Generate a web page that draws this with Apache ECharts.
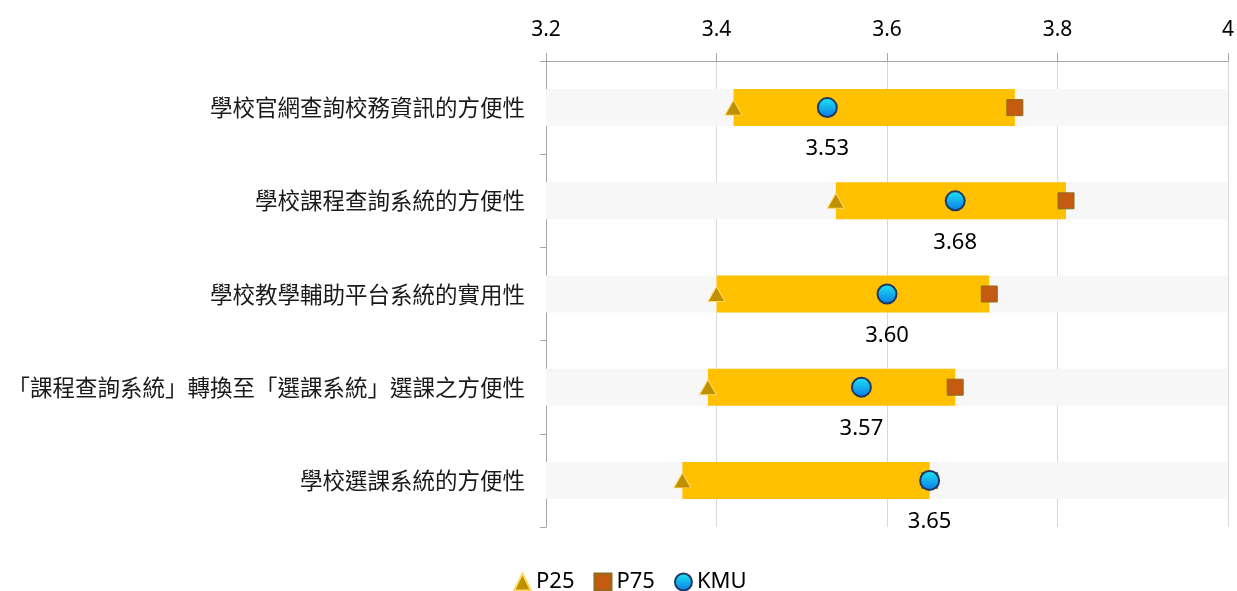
<!DOCTYPE html>
<html>
<head>
<meta charset="utf-8">
<script src="https://cdn.jsdelivr.net/npm/echarts@6/dist/echarts.min.js"></script>
<style>
  html, body { margin: 0; padding: 0; background: #fff; }
  #chart { width: 1237px; height: 591px; }
</style>
</head>
<body>
<div id="chart"></div>
<script>
// 題目（由上而下）
const categories = [
    "學校官網查詢校務資訊的方便性",
    "學校課程查詢系統的方便性",
    "學校教學輔助平台系統的實用性",
    "「課程查詢系統」轉換至「選課系統」選課之方便性",
    "學校選課系統的方便性",
];
const p25 = [3.42, 3.54, 3.40, 3.39, 3.36];
const p75 = [3.75, 3.81, 3.72, 3.68, 3.65];
const kmu = [3.53, 3.68, 3.60, 3.57, 3.65];
const xTicks = [3.2, 3.4, 3.6, 3.8, 4];

const cjkFont = '"Noto Sans CJK TC", "Noto Sans", sans-serif';
const numFont = '"Noto Sans", "Open Sans", sans-serif';

const chart = echarts.init(document.getElementById("chart"));

chart.setOption({
    animation: false,
    textStyle: { fontFamily: numFont },
    grid: {
        left: 546,
        right: 8,
        top: 61,
        bottom: 64,
    },
    xAxis: {
        type: "value",
        position: "top",
        min: xTicks[0],
        max: xTicks[xTicks.length - 1],
        interval: 0.2,
        axisLine: { show: true, lineStyle: { color: "#a6a6a6", width: 1 } },
        axisTick: { show: true, length: 8, lineStyle: { color: "#a6a6a6" } },
        axisLabel: {
            fontSize: 21,
            fontFamily: numFont,
            color: "#000",
            margin: 20,
            formatter: (v) => (v === 4 ? "4" : v.toFixed(1)),
        },
        splitLine: { show: true, lineStyle: { color: "#d9d9d9", width: 1 } },
    },
    yAxis: {
        type: "category",
        inverse: true,
        data: categories,
        axisLine: { show: true, lineStyle: { color: "#a6a6a6", width: 1 } },
        axisTick: { show: true, length: 6, lineStyle: { color: "#a6a6a6" } },
        axisLabel: { fontSize: 22.5, fontFamily: cjkFont, color: "#1a1a1a", margin: 21 },
    },
    legend: {
        data: ["P25", "P75", "KMU"],
        left: 508,
        top: 566,
        itemWidth: 17,
        itemHeight: 17,
        itemGap: 19,
        textStyle: { fontSize: 22, fontFamily: numFont, color: "#000" },
    },
    series: [
        {
            // 透明底座，讓金色長條從 P25 開始
            name: "base",
            type: "bar",
            stack: "range",
            barWidth: 37,
            silent: true,
            itemStyle: { color: "transparent" },
            data: p25,
        },
        {
            name: "range",
            type: "bar",
            stack: "range",
            barWidth: 37,
            showBackground: true,
            backgroundStyle: { color: "#f7f7f7" },
            itemStyle: { color: "#ffc000" },
            data: p75.map((v, i) => v - p25[i]),
        },
        {
            name: "P25",
            type: "scatter",
            symbol: "triangle",
            symbolSize: [17, 15],
            itemStyle: { color: "#bf9000", borderColor: "#ffd966", borderWidth: 1, opacity: 1 },
            data: p25.map((v, i) => [v, categories[i]]),
        },
        {
            name: "P75",
            type: "scatter",
            symbol: "rect",
            symbolSize: 16,
            itemStyle: { color: "#c55a11", borderColor: "#8c6d1f", borderWidth: 1, opacity: 1 },
            data: p75.map((v, i) => [v, categories[i]]),
        },
        {
            name: "KMU",
            type: "scatter",
            symbol: "circle",
            symbolSize: 19,
            itemStyle: {
                color: new echarts.graphic.LinearGradient(0, 0, 0, 1, [
                    { offset: 0, color: "#1ee8f2" },
                    { offset: 1, color: "#0a78e6" },
                ]),
                borderColor: "#1f3864",
                borderWidth: 2,
                opacity: 1,
            },
            label: {
                show: true,
                position: "bottom",
                distance: 20,
                fontSize: 22,
                fontFamily: numFont,
                color: "#000",
                formatter: (p) => p.value[0].toFixed(2),
            },
            data: kmu.map((v, i) => [v, categories[i]]),
        },
    ],
});
</script>
</body>
</html>
